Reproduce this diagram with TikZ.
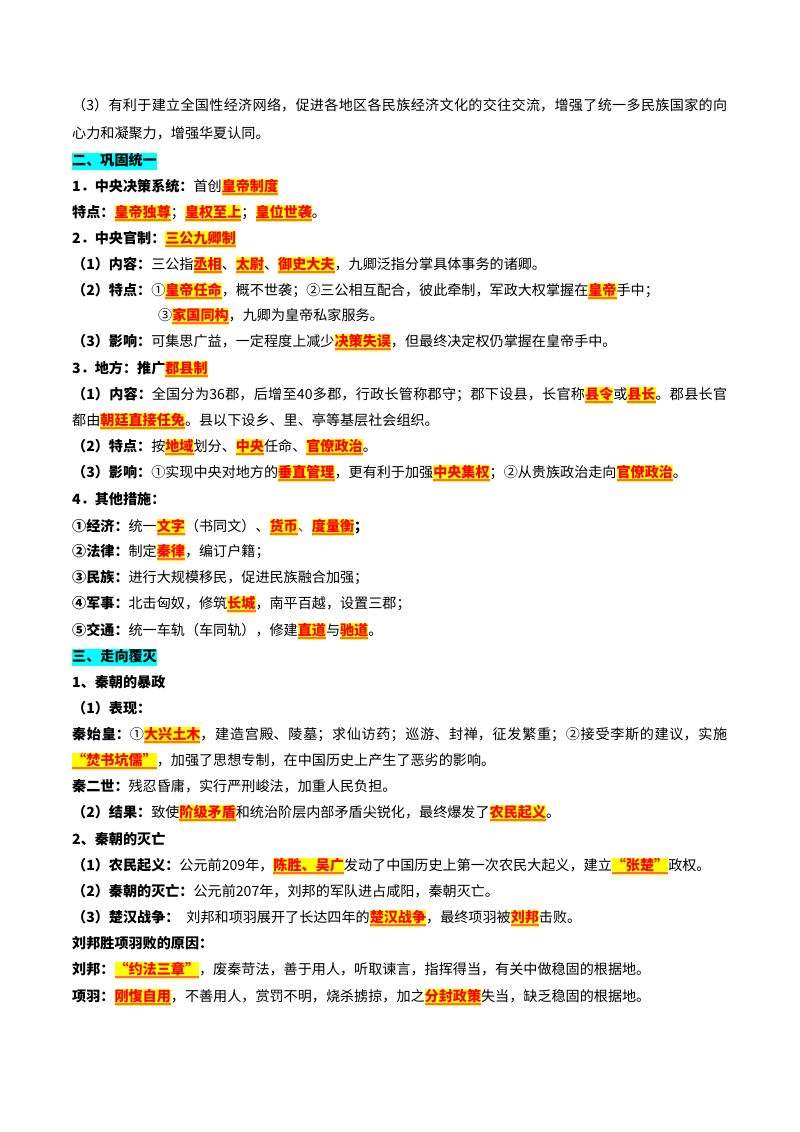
\documentclass[tikz,border=0pt]{standalone}
\usepackage{fontspec}
\setmainfont{Noto Sans CJK SC}
\XeTeXlinebreaklocale "zh"
\XeTeXlinebreakskip=0pt plus 3pt
\definecolor{hly}{HTML}{FFFF00}
\definecolor{hlr}{HTML}{FF0000}
\definecolor{ulr}{HTML}{FF6A5A}
\definecolor{secc}{HTML}{00FFFF}
\newsavebox\hlbox
\newcommand\hlt[1]{{\sbox\hlbox{\bfseries\textcolor{hlr}{#1}}\setlength{\fboxsep}{0pt}\colorbox{hly}{\rule[-4.5pt]{0pt}{16.5pt}\rlap{\textcolor{ulr}{\rule[-3.6pt]{\wd\hlbox}{1.4pt}}}\usebox\hlbox}}}
\newcommand\sect[1]{{\setlength{\fboxsep}{0pt}\colorbox{secc}{\rule[-5pt]{0pt}{17pt}\bfseries #1}}}
\newcommand\bft[1]{{\bfseries #1}}
\tikzset{
  ln/.style={anchor=base west, inner sep=0pt, font=\fontsize{14.1}{20}\selectfont},
  jl/.style={ln, text width=655pt, execute at begin node={\noindent\rightskip=0pt\parfillskip=0pt\parindent=0pt}}
}
\begin{document}
\begin{tikzpicture}[x=1pt,y=-1pt]
\useasboundingbox (0,0) rectangle (800,1132);
\fill[white] (0,0) rectangle (800,1132);
\node[jl] (l1) at (72,110) {（3）有利于建立全国性经济网络，促进各地区各民族经济文化的交往交流，增强了统一多民族国家的向};
\node[ln] (l2) at (72,138) {心力和凝聚力，增强华夏认同。};
\node[ln] (l3) at (72,165) {\sect{二、巩固统一}};
\node[ln] (l4) at (72,191) {\bft{1．中央决策系统：}首创\hlt{皇帝制度}};
\node[ln] (l5) at (72,217) {\bft{特点：}\hlt{皇帝独尊}；\hlt{皇权至上}；\hlt{皇位世袭}。};
\node[ln] (l6) at (72,243) {\bft{2．中央官制：}\hlt{三公九卿制}};
\node[ln] (l7) at (72,269) {\bft{（1）内容：}三公指\hlt{丞相}、\hlt{太尉}、\hlt{御史大夫}，九卿泛指分掌具体事务的诸卿。};
\node[ln] (l8) at (72,295) {\bft{（2）特点：}①\hlt{皇帝任命}，概不世袭；②三公相互配合，彼此牵制，军政大权掌握在\hlt{皇帝}手中；};
\node[ln] (l9) at (158,320) {③\hlt{家国同构}，九卿为皇帝私家服务。};
\node[ln] (l10) at (72,346) {\bft{（3）影响：}可集思广益，一定程度上减少\hlt{决策失误}，但最终决定权仍掌握在皇帝手中。};
\node[ln] (l11) at (72,373) {\bft{3．地方：推广}\hlt{郡县制}};
\node[jl] (l12) at (72,399) {\bft{（1）内容：}全国分为36郡，后增至40多郡，行政长管称郡守；郡下设县，长官称\hlt{县令}或\hlt{县长}。郡县长官};
\node[ln] (l13) at (72,425) {都由\hlt{朝廷直接任免}。县以下设乡、里、亭等基层社会组织。};
\node[ln] (l14) at (72,451) {\bft{（2）特点：}按\hlt{地域}划分、\hlt{中央}任命、\hlt{官僚政治}。};
\node[ln] (l15) at (72,477) {\bft{（3）影响：}①实现中央对地方的\hlt{垂直管理}，更有利于加强\hlt{中央集权}；②从贵族政治走向\hlt{官僚政治}。};
\node[ln] (l16) at (72,504) {\bft{4．其他措施：}};
\node[ln] (l17) at (72,531) {\bft{①经济：}统一\hlt{文字}（书同文）、\hlt{货币}\textcolor{hlr}{、}\hlt{度量衡}\bft{；}};
\node[ln] (l18) at (72,556) {\bft{②法律：}制定\hlt{秦律}，编订户籍；};
\node[ln] (l19) at (72,582) {\bft{③民族：}进行大规模移民，促进民族融合加强；};
\node[ln] (l20) at (72,608) {\bft{④军事：}北击匈奴，修筑\hlt{长城}，南平百越，设置三郡；};
\node[ln] (l21) at (72,635) {\bft{⑤交通：}统一车轨（车同轨），修建\hlt{直道}与\hlt{驰道}。};
\node[ln] (l22) at (72,661) {\sect{三、走向覆灭}};
\node[ln] (l23) at (72,687) {\bft{1、秦朝的暴政}};
\node[ln] (l24) at (72,713) {\bft{（1）表现：}};
\node[jl] (l25) at (72,739) {\bft{秦始皇：}①\hlt{大兴土木}，建造宫殿、陵墓；求仙访药；巡游、封禅，征发繁重；②接受李斯的建议，实施};
\node[ln] (l26) at (72,765) {\hlt{“焚书坑儒”}，加强了思想专制，在中国历史上产生了恶劣的影响。};
\node[ln] (l27) at (72,791) {\bft{秦二世：}残忍昏庸，实行严刑峻法，加重人民负担。};
\node[ln] (l28) at (72,817) {\bft{（2）结果：}致使\hlt{阶级矛盾}和统治阶层内部矛盾尖锐化，最终爆发了\hlt{农民起义}。};
\node[ln] (l29) at (72,844) {\bft{2、秦朝的灭亡}};
\node[ln] (l30) at (72,870) {\bft{（1）农民起义：}公元前209年，\hlt{陈胜、吴广}发动了中国历史上第一次农民大起义，建立\hlt{“张楚”}政权。};
\node[ln] (l31) at (72,896) {\bft{（2）秦朝的灭亡：}公元前207年，刘邦的军队进占咸阳，秦朝灭亡。};
\node[ln] (l32) at (72,922) {\bft{（3）楚汉战争：}\hspace{7pt}刘邦和项羽展开了长达四年的\hlt{楚汉战争}，最终项羽被\hlt{刘邦}击败。};
\node[ln] (l33) at (72,948) {\bft{刘邦胜项羽败的原因：}};
\node[ln] (l34) at (72,974) {\bft{刘邦：}\hlt{“约法三章”}，废秦苛法，善于用人，听取谏言，指挥得当，有关中做稳固的根据地。};
\node[ln] (l35) at (72,1001) {\bft{项羽：}\hlt{刚愎自用}，不善用人，赏罚不明，烧杀掳掠，加之\hlt{分封政策}失当，缺乏稳固的根据地。};
\end{tikzpicture}
\end{document}
